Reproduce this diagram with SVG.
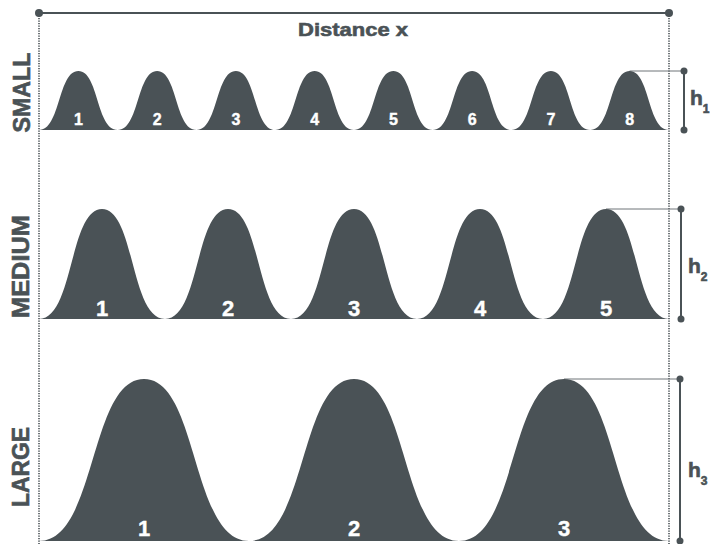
<svg xmlns="http://www.w3.org/2000/svg" xmlns:xlink="http://www.w3.org/1999/xlink" width="710" height="544" viewBox="0 0 710 544">
<style>
.bump{fill:#4a5256}
.num{font-family:"Liberation Sans",Arial,sans-serif;font-weight:bold;fill:#ffffff;stroke:#ffffff;stroke-width:0.4;text-anchor:middle}
.lbl{font-family:"Liberation Sans",Arial,sans-serif;font-weight:bold;fill:#4a5256;stroke:#4a5256;stroke-width:0.6}
.dotv{stroke:#4a5256;stroke-width:1.6;stroke-dasharray:1.3 1.2;fill:none}
.peak{stroke:#6e7478;stroke-width:1;fill:none}
.bar{stroke:#4a5256;stroke-width:2;fill:none}
.dot{fill:#4a5256}
</style>
<defs>
<path id="bs" d="M0,130 C21.66,130 18.9,71 39.375,71 C59.86,71 57.09,130 78.75,130 Z"/>
<path id="bm" d="M0,319 C34.65,319 30.24,209 63,209 C95.76,209 91.35,319 126,319 Z"/>
<path id="bl" d="M0,541 C57.75,541 50.4,379 105,379 C159.6,379 152.25,541 210,541 Z"/>
</defs>
<rect width="710" height="544" fill="#ffffff"/>

<g id="connectors">
<line class="dotv" x1="39" y1="13" x2="39" y2="544"/>
<line class="dotv" x1="669" y1="13" x2="669" y2="544"/>
<line x1="39" y1="13" x2="669" y2="13" stroke="#4a5256" stroke-width="2"/>
<circle class="dot" cx="39" cy="13" r="4"/>
<circle class="dot" cx="669" cy="13" r="4"/>
<line class="peak" x1="629.6" y1="71" x2="684" y2="71"/>
<line class="bar" x1="684" y1="71" x2="684" y2="130"/>
<circle class="dot" cx="684" cy="71" r="3.5"/>
<circle class="dot" cx="684" cy="130" r="3.5"/>
<line class="peak" x1="606" y1="209" x2="681" y2="209"/>
<line class="bar" x1="681" y1="209" x2="681" y2="319"/>
<circle class="dot" cx="681" cy="209" r="3.5"/>
<circle class="dot" cx="681" cy="319" r="3.5"/>
<line class="peak" x1="564" y1="379" x2="680" y2="379"/>
<line class="bar" x1="680" y1="379" x2="680" y2="541"/>
<circle class="dot" cx="680" cy="379" r="3.5"/>
<circle class="dot" cx="680" cy="541" r="3.5"/>
</g>

<g id="title">
<text class="lbl" x="353" y="36" font-size="19" text-anchor="middle" textLength="110" lengthAdjust="spacingAndGlyphs">Distance x</text>
</g>
<g id="label-small"><text class="lbl" transform="translate(30,92.5) rotate(-90)" font-size="23" text-anchor="middle" textLength="80" lengthAdjust="spacingAndGlyphs">SMALL</text></g>
<g id="label-medium"><text class="lbl" transform="translate(29,266.5) rotate(-90)" font-size="23" text-anchor="middle" textLength="103" lengthAdjust="spacingAndGlyphs">MEDIUM</text></g>
<g id="label-large"><text class="lbl" transform="translate(29,467) rotate(-90)" font-size="23" text-anchor="middle" textLength="80" lengthAdjust="spacingAndGlyphs">LARGE</text></g>

<g id="h1"><text class="lbl" x="690" y="105" font-size="21">h<tspan font-size="12" dy="8">1</tspan></text></g>
<g id="h2"><text class="lbl" x="688" y="273" font-size="21">h<tspan font-size="12" dy="8">2</tspan></text></g>
<g id="h3"><text class="lbl" x="688" y="477" font-size="21">h<tspan font-size="12" dy="8">3</tspan></text></g>

<g id="small-row">
<g id="s1"><use class="bump" xlink:href="#bs" x="39"/><text class="num" x="78.4" y="125" font-size="16">1</text></g>
<g id="s2"><use class="bump" xlink:href="#bs" x="117.75"/><text class="num" x="157.1" y="125" font-size="16">2</text></g>
<g id="s3"><use class="bump" xlink:href="#bs" x="196.5"/><text class="num" x="235.9" y="125" font-size="16">3</text></g>
<g id="s4"><use class="bump" xlink:href="#bs" x="275.25"/><text class="num" x="314.6" y="125" font-size="16">4</text></g>
<g id="s5"><use class="bump" xlink:href="#bs" x="354"/><text class="num" x="393.4" y="125" font-size="16">5</text></g>
<g id="s6"><use class="bump" xlink:href="#bs" x="432.75"/><text class="num" x="472.1" y="125" font-size="16">6</text></g>
<g id="s7"><use class="bump" xlink:href="#bs" x="511.5"/><text class="num" x="550.9" y="125" font-size="16">7</text></g>
<g id="s8"><use class="bump" xlink:href="#bs" x="590.25"/><text class="num" x="629.6" y="125" font-size="16">8</text></g>
</g>

<g id="medium-row">
<g id="m1"><use class="bump" xlink:href="#bm" x="39"/><text class="num" x="102" y="316" font-size="22">1</text></g>
<g id="m2"><use class="bump" xlink:href="#bm" x="165"/><text class="num" x="228" y="316" font-size="22">2</text></g>
<g id="m3"><use class="bump" xlink:href="#bm" x="291"/><text class="num" x="354" y="316" font-size="22">3</text></g>
<g id="m4"><use class="bump" xlink:href="#bm" x="417"/><text class="num" x="480" y="316" font-size="22">4</text></g>
<g id="m5"><use class="bump" xlink:href="#bm" x="543"/><text class="num" x="606" y="316" font-size="22">5</text></g>
</g>

<g id="large-row">
<g id="l1"><use class="bump" xlink:href="#bl" x="39"/><text class="num" x="144" y="536" font-size="22">1</text></g>
<g id="l2"><use class="bump" xlink:href="#bl" x="249"/><text class="num" x="354" y="536" font-size="22">2</text></g>
<g id="l3"><use class="bump" xlink:href="#bl" x="459"/><text class="num" x="564" y="536" font-size="22">3</text></g>
</g>
</svg>
